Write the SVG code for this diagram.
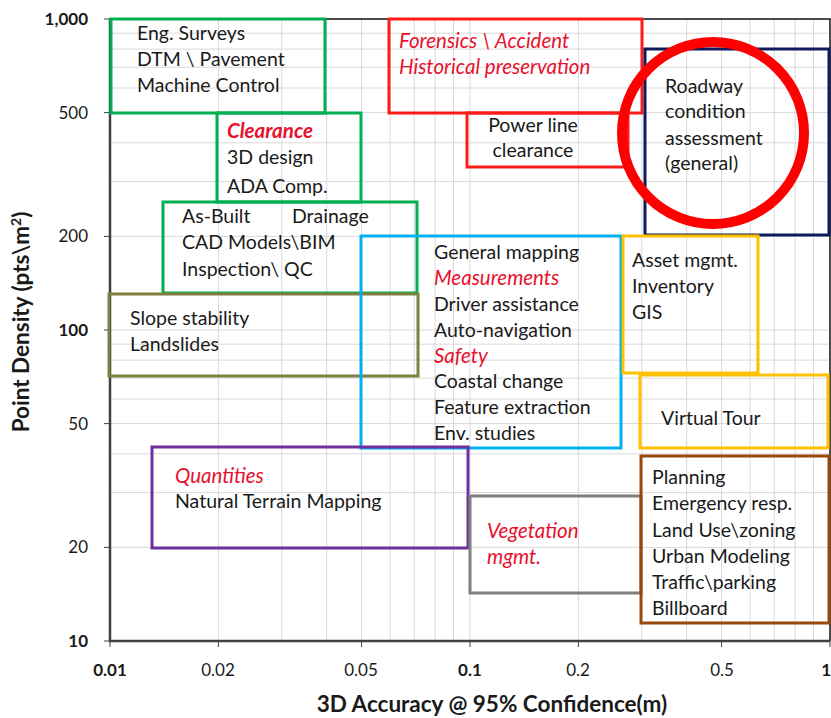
<svg xmlns="http://www.w3.org/2000/svg" width="831" height="718" viewBox="0 0 831 718">
<style>
.t{font-family:Lato,"Liberation Sans",sans-serif;font-size:19.5px;fill:#1a1a1a}
.r{fill:#e8112d;font-style:italic;font-size:20.5px}
.b{font-weight:bold}
.tk{font-family:Lato,"Liberation Sans",sans-serif;font-size:17px;fill:#1a1a1a}
.ax{font-family:Lato,"Liberation Sans",sans-serif;font-size:22.5px;font-weight:bold;fill:#1a1a1a}
.g{stroke:#d9d9d9;stroke-width:1;fill:none}
.box{fill:none;stroke-width:3}
</style>
<rect width="831" height="718" fill="#ffffff"/>
<g id="grid" class="g">
<path d="M218.4 19V641M281.8 19V641M326.7 19V641M361.6 19V641M390.1 19V641M414.2 19V641M435.1 19V641M453.5 19V641M470 19V641M578.4 19V641M641.8 19V641M686.7 19V641M721.6 19V641M750.1 19V641M774.2 19V641M795.1 19V641M813.5 19V641"/>
<path d="M110 547.4H830M110 492.6H830M110 453.8H830M110 423.6H830M110 399H830M110 378.2H830M110 360.1H830M110 344.2H830M110 330H830M110 236.4H830M110 181.6H830M110 142.8H830M110 112.6H830M110 88H830M110 67.2H830M110 49.1H830M110 33.2H830"/>
</g>
<g id="axes">
<path d="M110 19H830V641" fill="none" stroke="#111" stroke-width="1.5"/>
<path d="M110 19V641H830" fill="none" stroke="#404040" stroke-width="2.5"/>
<path d="M104 19H110M104 112.6H110M104 236.4H110M104 330H110M104 423.6H110M104 547.4H110M104 641H110M110 641V647M218.4 641V647M361.6 641V647M470 641V647M578.4 641V647M721.6 641V647M830 641V647" stroke="#404040" stroke-width="1"/>
<g class="tk" text-anchor="end">
<text x="88" y="25" class="b">1,000</text>
<text x="88" y="119">500</text>
<text x="88" y="242">200</text>
<text x="88" y="336" class="b">100</text>
<text x="88" y="430">50</text>
<text x="88" y="553">20</text>
<text x="88" y="647" class="b">10</text>
</g>
<g class="tk" text-anchor="middle">
<text x="110" y="676" class="b">0.01</text>
<text x="218" y="676">0.02</text>
<text x="361" y="676">0.05</text>
<text x="470" y="676" class="b">0.1</text>
<text x="578" y="676">0.2</text>
<text x="722" y="676">0.5</text>
<text x="831" y="676" class="b" text-anchor="end">1</text>
</g>
<text class="ax" x="492" y="712" text-anchor="middle">3D Accuracy @ 95% Confidence(m)</text>
<text class="ax" transform="translate(29 322) rotate(-90)" text-anchor="middle">Point Density (pts\m<tspan dy="-8" font-size="14">2</tspan><tspan dy="8">)</tspan></text>
</g>
<g id="eng-surveys">
<rect class="box" x="111" y="19" width="214" height="94" stroke="#00b050"/>
<text class="t" x="137" y="40">Eng. Surveys</text>
<text class="t" x="137" y="66">DTM \ Pavement</text>
<text class="t" x="137" y="92">Machine Control</text>
</g>
<g id="clearance">
<rect class="box" x="217" y="113" width="144" height="89" stroke="#00b050"/>
<text class="t r b" x="227" y="138">Clearance</text>
<text class="t" x="227" y="164">3D design</text>
<text class="t" x="227" y="193">ADA Comp.</text>
</g>
<g id="as-built">
<rect class="box" x="163" y="202" width="254" height="91" stroke="#00b050"/>
<text class="t" x="182" y="223">As-Built</text>
<text class="t" x="292" y="223">Drainage</text>
<text class="t" x="182" y="249">CAD Models\BIM</text>
<text class="t" x="182" y="276">Inspection\ QC</text>
</g>
<g id="slope">
<rect class="box" x="109" y="294" width="309" height="82" stroke="#7f7f40"/>
<text class="t" x="130" y="325">Slope stability</text>
<text class="t" x="130" y="351">Landslides</text>
</g>
<g id="forensics">
<rect class="box" x="389" y="19" width="253" height="94" stroke="#ff1a1a"/>
<text class="t r" x="399" y="48">Forensics \ Accident</text>
<text class="t r" x="399" y="74">Historical preservation</text>
</g>
<g id="power-line">
<rect class="box" x="467" y="113" width="161" height="54" stroke="#ff1a1a"/>
<text class="t" x="533" y="132" text-anchor="middle">Power line</text>
<text class="t" x="533" y="157" text-anchor="middle">clearance</text>
</g>
<g id="roadway">
<rect class="box" x="645" y="49" width="184" height="186" stroke="#0f1a5c"/>
<text class="t" x="665" y="93">Roadway</text>
<text class="t" x="665" y="118">condition</text>
<text class="t" x="665" y="145">assessment</text>
<text class="t" x="665" y="170">(general)</text>
</g>
<g id="general-mapping">
<rect class="box" x="361" y="236" width="260" height="212" stroke="#00b0f0"/>
<text class="t" x="434" y="259">General mapping</text>
<text class="t r" x="434" y="285">Measurements</text>
<text class="t" x="434" y="311">Driver assistance</text>
<text class="t" x="434" y="337">Auto-navigation</text>
<text class="t r" x="434" y="363">Safety</text>
<text class="t" x="434" y="388">Coastal change</text>
<text class="t" x="434" y="414">Feature extraction</text>
<text class="t" x="434" y="440">Env. studies</text>
</g>
<g id="asset">
<rect class="box" x="623" y="236" width="135" height="137" stroke="#ffc000"/>
<text class="t" x="632" y="267">Asset mgmt.</text>
<text class="t" x="632" y="293">Inventory</text>
<text class="t" x="632" y="319">GIS</text>
</g>
<g id="virtual-tour">
<rect class="box" x="640" y="375" width="188" height="73" stroke="#ffc000"/>
<text class="t" x="661" y="425">Virtual Tour</text>
</g>
<g id="quantities">
<rect class="box" x="152" y="447" width="316" height="101" stroke="#7030a0"/>
<text class="t r" x="175" y="483">Quantities</text>
<text class="t" x="175" y="508">Natural Terrain Mapping</text>
</g>
<g id="vegetation">
<rect class="box" x="470" y="496" width="171" height="97" stroke="#7f7f7f"/>
<text class="t r" x="487" y="538">Vegetation</text>
<text class="t r" x="487" y="564">mgmt.</text>
</g>
<g id="planning">
<rect class="box" x="641" y="456" width="188" height="167" stroke="#984807"/>
<text class="t" x="652" y="484">Planning</text>
<text class="t" x="652" y="510">Emergency resp.</text>
<text class="t" x="652" y="537">Land Use\zoning</text>
<text class="t" x="652" y="563">Urban Modeling</text>
<text class="t" x="652" y="589">Traffic\parking</text>
<text class="t" x="652" y="615">Billboard</text>
</g>
<g id="highlight">
<circle cx="713" cy="133" r="91" fill="none" stroke="#ff0000" stroke-width="10"/>
</g>
</svg>
